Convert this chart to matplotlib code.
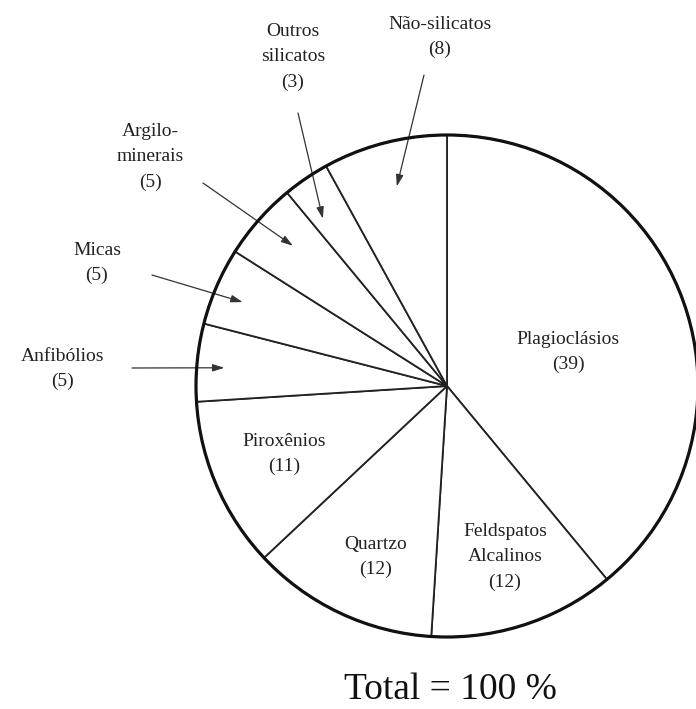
import numpy as np
import matplotlib
matplotlib.use("Agg")
import matplotlib.pyplot as plt
from matplotlib.patches import Circle

# ---- data ----
categories = ["Plagioclásios", "Feldspatos\nAlcalinos", "Quartzo", "Piroxênios",
              "Anfibólios", "Micas", "Argilo-\nminerais", "Outros\nsilicatos", "Não-silicatos"]
values = [39, 12, 12, 11, 5, 5, 5, 3, 8]
total_label = "Total = 100 %"

# ---- layout (pixel coords, y measured from top) ----
W, H = 696, 709
cx, cy, R = 447, 386, 251
# inside labels: (x, y)
inside = {0: (568, 352), 1: (505, 557), 2: (376, 557), 3: (284, 454)}
# outside labels: (x, y, arrow start x, y, tip radius frac, tip angle frac within wedge)
outside = {4: (63, 369, 132, 368, 0.89, 0.54),
           5: (97, 263, 152, 275, 0.88, 0.56),
           6: (150, 157, 203, 183, 0.83, 0.45),
           7: (293, 57, 298, 113, 0.83, 0.72),
           8: (440, 37, 424, 75, 0.82, 0.49)}

plt.rcParams['font.family'] = ['Liberation Serif', 'DejaVu Serif']
fig = plt.figure(figsize=(W / 100, H / 100), dpi=100)
ax = fig.add_axes([0, 0, 1, 1])

Y = lambda p: H - p
center = (cx, Y(cy))

wedges, _ = ax.pie(values, startangle=90, counterclock=False, radius=R, center=center,
                   colors=['white'] * len(values),
                   wedgeprops=dict(edgecolor='#222222', linewidth=1.3),
                   frame=True)
ax.set_xlim(0, W)
ax.set_ylim(0, H)
ax.set_aspect('equal')
ax.axis('off')
ax.add_patch(Circle(center, R, fill=False, edgecolor='#111111', linewidth=2.3, zorder=5))

fs = 14
ls = 1.62
for i, (x, y) in inside.items():
    ax.text(x, Y(y), f"{categories[i]}\n({values[i]})", ha='center', va='center',
            fontsize=fs, color='#222222', linespacing=ls)

for i, (x, y, ax0, ay0, rf, af) in outside.items():
    ax.text(x, Y(y), f"{categories[i]}\n({values[i]})", ha='center', va='center',
            fontsize=fs, color='#222222', linespacing=ls)
    w = wedges[i]
    ang = np.deg2rad(w.theta1 + af * (w.theta2 - w.theta1))
    tip = (cx + rf * R * np.cos(ang), Y(cy) + rf * R * np.sin(ang))
    ax.annotate("", xy=tip, xytext=(ax0, Y(ay0)),
                arrowprops=dict(arrowstyle='-|>,head_length=0.7,head_width=0.22',
                                color='#333333', lw=0.9, shrinkA=0, shrinkB=0))

ax.text(450, Y(690), total_label, ha='center', va='center', fontsize=27, color='#111111')

fig.savefig("out.png", dpi=100)
